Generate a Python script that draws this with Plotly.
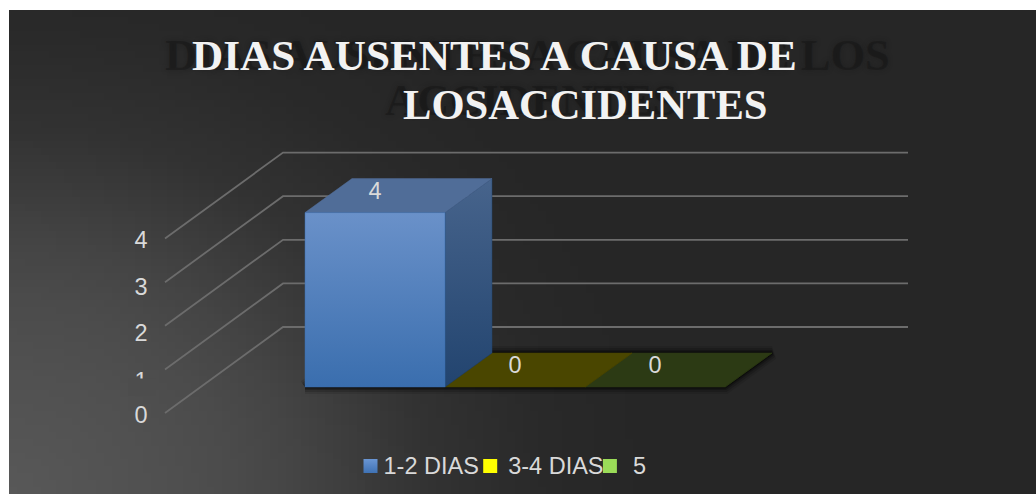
import numpy as np
import plotly.graph_objects as go

# ---- data ----
categories = ["1-2 DIAS", "3-4 DIAS", "5"]
values = [4, 0, 0]
value_labels = ["4", "0", "0"]
tick_values = [0, 1, 2, 3, 4]
tick_labels = ["0", "1", "2", "3", "4"]
title_lines = ["DIAS AUSENTES A CAUSA DE", "LOSACCIDENTES"]
ghost_lines = ["DIAS AUSENTES A CAUSA DE LOS", "ACCIDENTES"]

# ---- styles ----
front_bottom = ["#3a6eae", "#4a4600", "#2c3a14"]
front_top = ["#6a91c9", "#4a4600", "#2c3a14"]
side_top = ["#47648c", "#4a4600", "#2c3a14"]
side_bottom = ["#22446f", "#4a4600", "#2c3a14"]
top_colors = ["#506d98", "#4a4600", "#2c3a14"]
legend_colors = ["#6a96d4", "#ffff00", "#9bdc58"]
legend_grad = ["#3f72b4", "#ffff00", "#9bdc58"]
TEXT = "#d9d9d9"
GRID = "#6c6c6c"

W, H = 1036, 494
PX_X, PX_Y = 140.0, 43.6      # pixels per category / per value
X0, Y0 = 305.0, 387.0         # pixel of category edge 0, value 0
DX, DY = 47 / PX_X, 34 / PX_Y  # bar depth in axis units


def ax(px):
    return (px - X0) / PX_X


def ay(py):
    return (Y0 - py) / PX_Y


def glow_at(px, py):
    r = np.hypot(px - 9, 1.15 * (py - H))
    return np.interp(r, [0, 150, 224, 291, 420, 540, 640],
                     [0x58, 0x50, 0x4b, 0x44, 0x32, 0x29, 0x26])


fig = go.Figure()

# background: radial glow from the lower left corner
bx = np.linspace(9, W, 131)
by = np.linspace(10, H, 71)
cx, cy = np.meshgrid((bx[:-1] + bx[1:]) / 2, (by[:-1] + by[1:]) / 2)
fig.add_trace(go.Heatmap(x=ax(bx), y=ay(by), z=glow_at(cx, cy), zmin=0, zmax=255,
                         colorscale=[[0, "#000000"], [1, "#ffffff"]], showscale=False,
                         hoverinfo="skip"))

# walls: gridlines
for v in tick_values:
    fig.add_trace(go.Scatter(
        x=[ax(165), ax(283), ax(908)],
        y=[ay(413) + v, ay(327) + v, ay(327) + v],
        mode="lines", line=dict(color=GRID, width=1.8), hoverinfo="skip", showlegend=False))

# soft shadow under the whole floor
n = len(categories)
for w, a in [(14, 0.10), (10, 0.16), (6, 0.25), (3, 0.4)]:
    fig.add_trace(go.Scatter(
        x=[0, n, n + DX, DX, 0], y=[0, 0, DY, DY, 0], mode="lines", fill="toself",
        fillcolor="rgba(0,0,0,0.4)", line=dict(color=f"rgba(0,0,0,{a})", width=w),
        hoverinfo="skip", showlegend=False))

# bars
for i in range(n - 1, -1, -1):
    v = values[i]
    # side face
    fig.add_trace(go.Scatter(
        x=[i + 1, i + 1 + DX, i + 1 + DX, i + 1, i + 1],
        y=[0, DY, v + DY, v, 0], mode="lines", fill="toself",
        fillgradient=dict(type="vertical", start=0, stop=max(v + DY, 0.01),
                          colorscale=[[0, side_bottom[i]], [1, side_top[i]]]),
        line=dict(color=side_bottom[i], width=0.5), hoverinfo="skip", showlegend=False))
    # top face
    fig.add_trace(go.Scatter(
        x=[i, i + 1, i + 1 + DX, i + DX, i], y=[v, v, v + DY, v + DY, v],
        mode="lines", fill="toself", fillcolor=top_colors[i],
        line=dict(color=top_colors[i], width=0.5), hoverinfo="skip", showlegend=False))
    # front face
    if v > 0:
        fig.add_trace(go.Scatter(
            x=[i, i + 1, i + 1, i, i], y=[0, 0, v, v, 0], mode="lines", fill="toself",
            fillgradient=dict(type="vertical", start=0, stop=v,
                              colorscale=[[0, front_bottom[i]], [1, front_top[i]]]),
            line=dict(color=front_bottom[i], width=0.5), hoverinfo="skip", showlegend=False))

# value labels
fig.add_trace(go.Scatter(
    x=[i + 0.5 for i in range(n)], y=[v + 19.5 / PX_Y for v in values],
    mode="text", text=value_labels, textposition="middle center",
    textfont=dict(family="Liberation Sans", size=23.5, color=TEXT),
    hoverinfo="skip", showlegend=False))

# value-axis labels (offset from the wall front edge, as in the original)
tick_label_py = [417.5, 383.5, 335.5, 289, 242.5]
fig.add_trace(go.Scatter(
    x=[ax(141)] * len(tick_values), y=[ay(p) for p in tick_label_py],
    mode="text", text=tick_labels, textposition="middle center",
    textfont=dict(family="Liberation Sans", size=23.5, color=TEXT),
    hoverinfo="skip", showlegend=False))

# legend row
for i, c in enumerate(categories):
    lx = 370.5 + 119.7 * i
    gap = [13, 18, 23][i]
    fig.add_trace(go.Scatter(
        x=[ax(lx)], y=[ay(466)], mode="markers", name=c,
        marker=dict(symbol="square", size=14, color=legend_colors[i], line=dict(width=0),
                    gradient=dict(type="vertical", color=legend_grad[i])),
        hoverinfo="skip", showlegend=False))
    fig.add_trace(go.Scatter(
        x=[ax(lx + gap)], y=[ay(468.5)], mode="text", text=[c], textposition="middle right",
        textfont=dict(family="Liberation Sans", size=23.5, color=TEXT),
        hoverinfo="skip", showlegend=False))

# title: blurred ghost then the white text
serif = "Liberation Serif"
annos = []
for txt, xp, yp in zip(ghost_lines, [163, 383], [55, 100]):
    annos.append(dict(text=f"<b>{txt}</b>", xref="paper", yref="paper", x=xp / W, y=1 - yp / H,
                      xanchor="left", yanchor="middle", showarrow=False,
                      font=dict(family=serif, size=44.6, color="rgba(15,15,15,0.35)",
                                shadow="0 0 5px #151515")))
for txt, xp, yp, fs in zip(title_lines, [190, 401], [56, 104], [43.2, 42.6]):
    annos.append(dict(text=f"<b>{txt}</b>", xref="paper", yref="paper", x=xp / W, y=1 - yp / H,
                      xanchor="left", yanchor="middle", showarrow=False,
                      font=dict(family=serif, size=fs, color="#f2f2f2")))

cover = int(glow_at(141, 385))
fig.update_layout(
    width=W, height=H, margin=dict(l=0, r=0, t=0, b=0),
    paper_bgcolor="#ffffff", plot_bgcolor="#ffffff", showlegend=False,
    xaxis=dict(range=[ax(0), ax(W)], visible=False, domain=[0, 1], fixedrange=True),
    yaxis=dict(range=[ay(H), ay(0)], visible=False, domain=[0, 1], fixedrange=True),
    annotations=annos,
    # hides the lower part of the clipped "1" axis label
    shapes=[dict(type="rect", xref="paper", yref="paper", layer="above",
                 x0=128 / W, x1=156 / W, y0=1 - 396 / H, y1=1 - 378.5 / H,
                 fillcolor=f"rgb({cover},{cover},{cover})", line=dict(width=0))],
)

fig.write_html("out.html", config=dict(displayModeBar=False),
               post_script="document.body.style.margin='0';document.body.style.overflow='hidden';")
